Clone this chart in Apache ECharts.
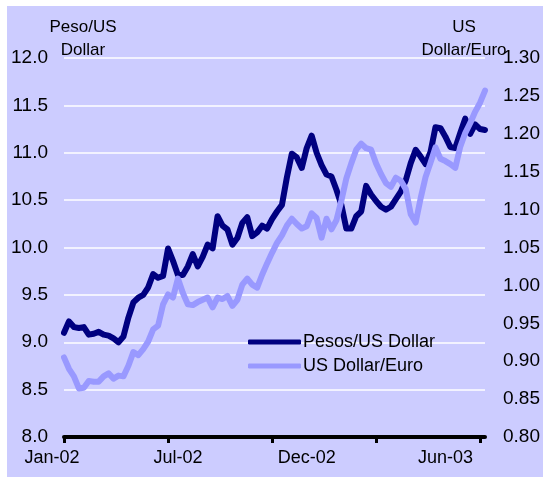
<!DOCTYPE html>
<html>
<head>
<meta charset="utf-8">
<script src="https://cdn.jsdelivr.net/npm/echarts@6/dist/echarts.min.js"></script>
<style>
html,body{margin:0;padding:0;background:#ffffff;}
#c{width:543px;height:477px;}
</style>
</head>
<body>
<div id="c"></div>
<script>
// Pesos per US dollar, sampled along the time axis
var pesoUsd = [
  9.10, 9.22, 9.16, 9.15, 9.16, 9.08, 9.09, 9.11, 9.08, 9.07,
  9.04, 9.00, 9.06, 9.26, 9.42, 9.47, 9.50, 9.58, 9.72, 9.68,
  9.70, 9.99, 9.86, 9.71, 9.71, 9.80, 9.93, 9.80, 9.90, 10.03,
  9.99, 10.33, 10.23, 10.19, 10.03, 10.10, 10.26, 10.32, 10.12, 10.16,
  10.23, 10.20, 10.30, 10.38, 10.45, 10.74, 10.99, 10.95, 10.84, 11.05,
  11.18, 11.00, 10.87, 10.77, 10.75, 10.61, 10.45, 10.20, 10.20, 10.33,
  10.38, 10.65, 10.56, 10.49, 10.43, 10.40, 10.43, 10.51, 10.59, 10.71,
  10.89, 11.03, 10.96, 10.88, 11.01, 11.27, 11.26, 11.17, 11.06, 11.05,
  11.21, 11.36, 11.20, 11.30, 11.25, 11.24
];
// US dollars per euro
var usdEuro = [
  0.905, 0.890, 0.880, 0.864, 0.865, 0.874, 0.873, 0.873, 0.880, 0.884,
  0.877, 0.881, 0.880, 0.894, 0.912, 0.908, 0.916, 0.926, 0.942, 0.947,
  0.975, 0.988, 0.984, 1.009, 0.990, 0.975, 0.974, 0.978, 0.981, 0.984,
  0.971, 0.984, 0.982, 0.986, 0.973, 0.981, 1.001, 1.009, 1.001, 0.997,
  1.014, 1.029, 1.043, 1.056, 1.066, 1.079, 1.088, 1.081, 1.075, 1.078,
  1.095, 1.089, 1.063, 1.088, 1.074, 1.086, 1.112, 1.141, 1.161, 1.179,
  1.187, 1.181, 1.179, 1.161, 1.147, 1.135, 1.130, 1.142, 1.138, 1.127,
  1.094, 1.083, 1.115, 1.143, 1.162, 1.182, 1.167, 1.164, 1.160, 1.155,
  1.183, 1.201, 1.214, 1.229, 1.241, 1.257
];
var categories = pesoUsd.map(function (v, i) { return String(i); });
var tickIndex = [0, 21, 42, 63, 84];
var labelIndex = [0, 23, 49, 77];
var labelText = ['Jan-02', 'Jul-02', 'Dec-02', 'Jun-03'];
var seriesNames = ['Pesos/US Dollar', 'US Dollar/Euro'];

var chart = echarts.init(document.getElementById('c'), null, {renderer: 'canvas'});
var FONT = 'Liberation Sans, Arial, sans-serif';
chart.setOption({
  backgroundColor: '#ffffff',
  animation: false,
  graphic: [{
    type: 'rect', z: -10, silent: true,
    shape: {x: 7, y: 6, width: 536, height: 471},
    style: {fill: '#ccccff'}
  }],
  title: [
    {text: 'Peso/US\nDollar', left: 78, top: 11, textAlign: 'center',
     textStyle: {fontFamily: FONT, fontSize: 17, fontWeight: 'normal', color: '#000', lineHeight: 23}},
    {text: 'US\nDollar/Euro', left: 459, top: 11, textAlign: 'center',
     textStyle: {fontFamily: FONT, fontSize: 17, fontWeight: 'normal', color: '#000', lineHeight: 23}}
  ],
  legend: {
    orient: 'vertical', left: 243, top: 328, itemWidth: 53, itemHeight: 5, itemGap: 6,
    icon: 'roundRect',
    textStyle: {fontFamily: FONT, fontSize: 18, color: '#000', padding: [0, 0, 0, -3]},
    data: seriesNames
  },
  grid: {left: 64, right: 54, top: 58, bottom: 40, containLabel: false},
  xAxis: {
    type: 'category', data: categories, boundaryGap: false,
    axisLine: {lineStyle: {color: '#000', width: 4}},
    axisTick: {show: true, length: 6, lineStyle: {color: '#000', width: 3},
      interval: function (i) { return tickIndex.indexOf(i) >= 0; }},
    axisLabel: {
      interval: function (i) { return labelIndex.indexOf(i) >= 0; },
      formatter: function (v, i) {
        var k = labelIndex.indexOf(i);
        if (k === 0) return '{s|' + labelText[0] + '}';
        return k >= 0 ? labelText[k] : '';
      },
      rich: {s: {fontFamily: FONT, fontSize: 18, color: '#000', padding: [0, 24, 0, 0]}},
      fontFamily: FONT, fontSize: 18, color: '#000', margin: 12
    },
    splitLine: {show: false}
  },
  yAxis: [
    {type: 'value', min: 8, max: 12, interval: 0.5, position: 'left',
     axisLine: {show: false}, axisTick: {show: false},
     axisLabel: {fontFamily: FONT, fontSize: 19, color: '#000', margin: 16,
       formatter: function (v) { return v.toFixed(1); }},
     splitLine: {show: true, lineStyle: {color: '#ffffff', width: 1.5}}},
    {type: 'value', min: 0.8, max: 1.3, interval: 0.05, position: 'right',
     axisLine: {show: false}, axisTick: {show: false},
     axisLabel: {fontFamily: FONT, fontSize: 19, color: '#000', margin: 18,
       formatter: function (v) { return v.toFixed(2); }},
     splitLine: {show: false}}
  ],
  series: [
    {name: seriesNames[0], type: 'line', yAxisIndex: 0, data: pesoUsd,
     showSymbol: false, symbol: 'none', color: '#000080',
     lineStyle: {color: '#000080', width: 6, cap: 'round', join: 'round'}},
    {name: seriesNames[1], type: 'line', yAxisIndex: 1, data: usdEuro,
     showSymbol: false, symbol: 'none', color: '#9999ff',
     lineStyle: {color: '#9999ff', width: 6, cap: 'round', join: 'round'}}
  ]
});
</script>
</body>
</html>
